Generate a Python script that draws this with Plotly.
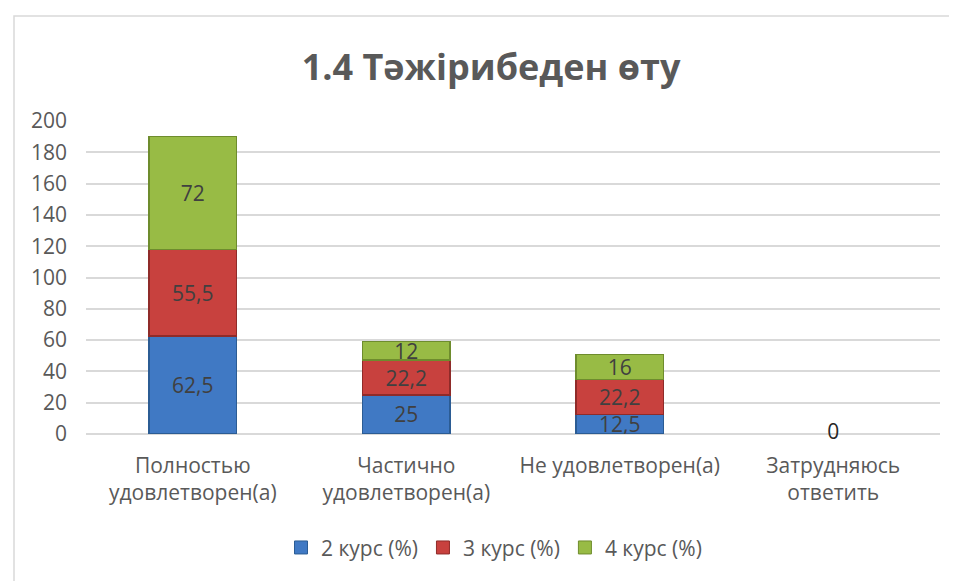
import plotly.graph_objects as go

categories = ["Полностью<br>удовлетворен(а)", "Частично<br>удовлетворен(а)", "Не удовлетворен(а)", "Затрудняюсь<br>ответить"]
series_names = ["2 курс (%)", "3 курс (%)", "4 курс (%)"]
kurs2 = [62.5, 25, 12.5, 0]
kurs3 = [55.5, 22.2, 22.2, 0]
kurs4 = [72, 12, 16, 0]
y_ticks = [0, 20, 40, 60, 80, 100, 120, 140, 160, 180, 200]
title_text = "1.4 Тәжірибеден өту"

fills = ["#4079C4", "#C8413E", "#98BB45"]
lines = ["#2B5C94", "#8F2B29", "#6E8C2D"]
FONT = "Open Sans"
FS = 20

fig = go.Figure()
for name, vals, fc, lc in zip(series_names, [kurs2, kurs3, kurs4], fills, lines):
    fig.add_trace(go.Bar(
        x=categories, y=vals, name=name, showlegend=False,
        marker=dict(color=fc, line=dict(color=lc, width=[1.5 if v != 0 else 0 for v in vals])),
        text=[("%g" % v).replace(".", ",") if v != 0 else "" for v in vals],
        textposition="inside", insidetextanchor="middle", textangle=0,
        textfont=dict(size=FS + 1, color="#404040", family=FONT),
        constraintext="none",
    ))
    # legend entry with small square marker
    fig.add_trace(go.Scatter(
        x=[None], y=[None], mode="markers", name=name,
        marker=dict(symbol="square", size=13, color=fc, line=dict(color=lc, width=1)),
    ))

# zero labels
zero_x = [c for c, a, b, d in zip(categories, kurs2, kurs3, kurs4) if a == 0 and b == 0 and d == 0]
fig.add_trace(go.Scatter(
    x=zero_x, y=[0] * len(zero_x), mode="text", text=["0"] * len(zero_x),
    textposition="middle center", textfont=dict(size=FS + 1, color="#262626", family=FONT),
    showlegend=False, hoverinfo="skip", cliponaxis=False,
))

# browser body margin offset (8px)
OFF = 8
W, H = 957 - OFF, 581 - OFF
l, r, t, b = 86 - OFF, 17, 121 - OFF, 141
pw, ph = W - l - r, H - t - b

def px_x(x):
    return (x - OFF - l) / pw

def px_y(y):
    return (H - b - (y - OFF)) / ph

fig.update_layout(
    width=W, height=H,
    margin=dict(l=l, r=r, t=t, b=b),
    barmode="stack", bargap=0.59,
    paper_bgcolor="white", plot_bgcolor="white",
    separators=", ",
    uniformtext=dict(minsize=FS + 1, mode="show"),
    title=dict(text="<b>" + title_text + "</b>", x=px_x(491), xref="paper", xanchor="center",
               y=1 - (67 - OFF) / H, yanchor="middle",
               font=dict(size=36, color="#595959", family=FONT)),
    font=dict(family=FONT, color="#595959", size=FS),
    legend=dict(orientation="h", x=px_x(494), xanchor="center", y=px_y(556), yanchor="middle",
                font=dict(size=FS + 1, color="#595959"), traceorder="normal",
                itemwidth=30, tracegroupgap=0),
    xaxis=dict(showgrid=False, showline=False, ticks="", ticklabelstandoff=17,
               tickfont=dict(size=FS + 1, color="#595959")),
    yaxis=dict(range=[0, 200], tickvals=y_ticks, showgrid=True, gridcolor="#D9D9D9", gridwidth=1.5,
               zeroline=True, zerolinecolor="#D9D9D9", zerolinewidth=1.5,
               tickfont=dict(size=FS + 1, color="#595959"), ticks="", ticklabelstandoff=18),
    shapes=[dict(type="rect", xref="paper", yref="paper",
                 x0=px_x(14), x1=px_x(975), y0=px_y(600), y1=px_y(14),
                 line=dict(color="#D9D9D9", width=1.5), fillcolor="rgba(0,0,0,0)", layer="below")],
)

fig.write_html("out.html")
